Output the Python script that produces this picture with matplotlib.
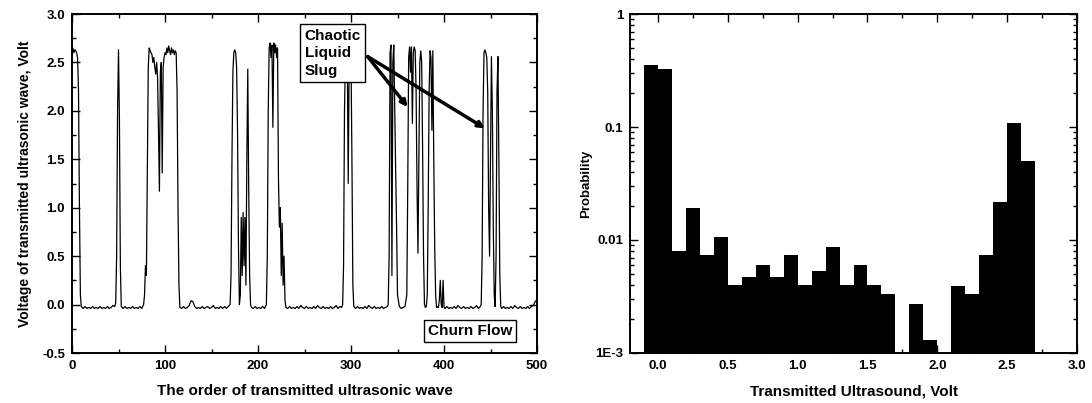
import numpy as np
import matplotlib.pyplot as plt
from matplotlib.ticker import MultipleLocator, FixedLocator, LogLocator, NullFormatter

plt.rcParams['font.family'] = ['Liberation Sans', 'DejaVu Sans']
plt.rcParams['font.weight'] = 'bold'

# ---- left panel: transmitted ultrasonic wave, (order, voltage) vertices ----
trace = [
    (0, 2.58), (1, 2.65), (2, 2.60), (3, 2.63), (4, 2.62), (5, 2.60), (6, 2.55), (7, 2.20), (8, 1.00), (9, 0.10),
    (10, -0.02), (12, -0.04), (14, -0.02), (16, -0.04), (18, -0.03), (20, -0.04), (22, -0.02), (24, -0.04),
    (26, -0.03), (28, -0.04), (30, -0.02), (32, -0.04), (34, -0.03), (36, -0.04), (38, -0.02), (40, -0.04),
    (42, -0.03), (44, -0.01), (46, -0.02),
    (47, 0.02), (48, 0.50), (49, 2.00), (50, 2.63), (51, 1.90), (52, 0.40), (53, -0.02),
    (55, -0.04), (57, -0.02), (59, -0.04), (61, -0.03), (63, -0.04), (65, -0.02), (67, -0.04), (69, -0.03),
    (71, -0.04), (73, -0.02), (75, -0.04), (77, 0.00), (78, 0.10), (79, 0.40), (80, 0.30),
    (81, 1.40), (82, 2.45), (83, 2.65), (84, 2.62), (85, 2.60), (86, 2.58), (87, 2.50), (88, 2.55), (89, 2.45),
    (90, 2.38), (91, 2.50), (92, 2.35), (93, 1.80), (94, 1.17), (95, 2.40), (96, 2.50), (97, 1.36), (98, 2.45),
    (99, 2.55), (100, 2.60), (101, 2.58), (102, 2.65), (103, 2.60), (104, 2.67), (105, 2.62), (106, 2.58),
    (107, 2.65), (108, 2.60), (109, 2.63), (110, 2.58), (111, 2.62), (112, 2.60), (113, 2.20), (114, 1.00),
    (115, 0.20), (116, -0.03), (118, -0.04), (120, -0.02), (122, -0.04), (124, -0.03), (126, -0.01),
    (128, 0.04), (130, 0.03), (132, -0.02), (134, -0.04), (136, -0.03), (138, -0.04), (140, -0.02),
    (142, -0.04), (144, -0.03), (146, -0.02), (148, -0.04), (150, -0.03), (152, -0.01), (154, -0.04),
    (156, -0.03), (158, -0.04), (160, -0.02), (162, -0.04), (164, -0.02), (166, -0.04), (168, -0.02),
    (170, 0.00), (171, 0.30), (172, 1.50), (173, 2.40), (174, 2.60), (175, 2.63), (176, 2.60), (177, 2.45),
    (178, 1.80), (179, 0.60), (180, 0.00), (181, 0.10), (182, 0.90), (183, 0.30), (184, 0.95), (185, 0.40),
    (186, 0.90), (187, 0.20), (188, 1.50), (189, 2.43), (190, 1.20), (191, 0.30), (192, 0.00),
    (193, -0.03), (195, -0.04), (197, -0.02), (199, -0.04), (201, -0.03), (203, -0.04), (205, -0.02),
    (207, -0.04), (209, 0.00), (210, 0.50), (211, 2.00), (212, 2.65), (213, 2.70), (214, 2.55), (215, 2.68),
    (216, 1.83), (217, 2.70), (218, 2.60), (219, 2.68), (220, 2.55), (221, 2.65), (222, 1.30), (223, 0.80),
    (224, 1.00), (225, 0.30), (226, 0.84), (227, 0.20), (228, 0.50), (229, 0.05),
    (230, -0.03), (232, -0.04), (234, -0.02), (236, -0.04), (238, -0.03), (240, -0.04), (242, -0.02),
    (244, -0.04), (246, -0.01), (248, -0.03), (250, -0.04), (252, -0.02), (254, -0.04), (256, -0.03),
    (258, -0.04), (260, -0.02), (262, -0.04), (264, -0.01), (266, -0.03), (268, -0.04), (270, -0.02),
    (272, -0.04), (274, -0.03), (276, -0.04), (278, -0.02), (280, -0.04), (282, -0.03), (284, -0.01),
    (286, -0.04), (288, -0.02), (290, -0.03),
    (291, 0.00), (292, 0.40), (293, 2.00), (294, 2.55), (295, 2.62), (296, 2.60), (297, 1.25), (298, 2.50),
    (299, 2.60), (300, 2.55), (301, 1.50), (302, 0.20), (303, -0.02),
    (305, -0.04), (307, -0.02), (309, -0.04), (311, -0.03), (313, -0.04), (315, -0.02), (317, -0.04),
    (319, -0.01), (321, -0.03), (323, -0.04), (325, -0.02), (327, -0.04), (329, -0.03), (331, -0.04),
    (333, -0.02), (335, -0.04), (337, -0.03), (339, -0.02),
    (340, 0.00), (341, 0.50), (342, 2.60), (343, 2.68), (344, 0.30), (345, 2.50), (346, 2.68), (347, 2.00),
    (348, 1.40), (349, 0.80), (350, 0.10), (352, -0.02), (354, -0.04), (356, -0.03), (358, -0.02),
    (360, 0.10), (361, 1.20), (362, 2.55), (363, 2.66), (364, 2.40), (365, 2.66), (366, 1.87), (367, 2.60),
    (368, 2.66), (369, 2.62), (370, 2.20), (371, 1.20), (372, 0.53), (373, 1.50), (374, 2.50), (375, 2.62),
    (376, 2.50), (377, 1.60), (378, 0.50), (379, 0.00), (380, -0.03), (381, -0.02), (382, 0.10), (383, 1.00),
    (384, 2.20), (385, 2.62), (386, 2.55), (387, 1.80), (388, 2.62), (389, 1.50), (390, 0.60), (391, 0.10),
    (392, -0.03), (393, -0.02), (394, -0.03), (395, 0.05), (396, 0.25), (397, 0.00), (398, -0.03),
    (399, 0.25), (400, -0.02),
    (401, -0.04), (403, -0.02), (405, -0.04), (407, -0.03), (409, -0.04), (411, -0.02), (413, -0.04),
    (415, -0.01), (417, -0.03), (419, -0.04), (421, -0.02), (423, -0.04), (425, -0.03), (427, -0.04),
    (429, -0.02), (431, -0.04), (433, -0.03), (435, -0.01), (437, -0.04), (439, -0.02),
    (440, 0.00), (441, 0.50), (442, 2.00), (443, 2.60), (444, 2.63), (445, 2.60), (446, 2.55), (447, 2.20),
    (448, 1.00), (449, 0.50), (450, 1.50), (451, 2.56), (452, 2.00), (453, 0.80), (454, 0.10), (455, -0.02),
    (456, 0.50), (457, 2.20), (458, 2.56), (459, 1.50), (460, 0.30), (461, -0.02),
    (462, -0.04), (464, -0.02), (466, -0.04), (468, -0.03), (470, -0.04), (472, -0.02), (474, -0.04),
    (476, -0.01), (478, -0.03), (480, -0.04), (482, -0.02), (484, -0.04), (486, -0.03), (488, -0.04),
    (490, -0.02), (492, -0.04), (494, -0.02), (496, -0.01), (498, 0.03), (500, 0.05),
]
order = [p[0] for p in trace]
voltage = [p[1] for p in trace]

# ---- right panel: probability histogram ----
bin_left = [-0.1, 0.0, 0.1, 0.2, 0.3, 0.4, 0.5, 0.6, 0.7, 0.8, 0.9, 1.0, 1.1, 1.2,
            1.3, 1.4, 1.5, 1.6, 1.7, 1.8, 1.9, 2.0, 2.1, 2.2, 2.3, 2.4, 2.5, 2.6]
probability = [0.354, 0.324, 0.0080, 0.0191, 0.0074, 0.0106, 0.0040, 0.0047, 0.0060, 0.0047, 0.0073, 0.0040, 0.0053, 0.0086,
               0.0040, 0.0060, 0.0040, 0.0033, 0.0, 0.0027, 0.0013, 0.0, 0.0039, 0.0033, 0.0074, 0.0216, 0.109, 0.0503]

fig = plt.figure(figsize=(10.92, 4.03), dpi=100)
ax1 = fig.add_axes([72 / 1092, 50 / 403, 465 / 1092, 339 / 403])
ax2 = fig.add_axes([630 / 1092, 50 / 403, 447 / 1092, 339 / 403])

ax1.plot(order, voltage, color='black', lw=0.9)
ax1.set_xlim(0, 500)
ax1.set_ylim(-0.5, 3.0)
ax1.xaxis.set_major_locator(MultipleLocator(100))
ax1.xaxis.set_minor_locator(MultipleLocator(50))
ax1.yaxis.set_major_locator(MultipleLocator(0.5))
ax1.yaxis.set_minor_locator(MultipleLocator(0.25))
ax1.yaxis.set_major_formatter(plt.FormatStrFormatter('%.1f'))
ax1.set_xlabel('The order of transmitted ultrasonic wave', labelpad=9, fontsize=11, fontweight='bold')
ax1.set_ylabel('Voltage of transmitted ultrasonic wave, Volt', labelpad=7, fontsize=10, fontweight='bold')

ax1.text(250, 2.595, 'Chaotic\nLiquid\nSlug', ha='left', va='center', fontsize=11,
         fontweight='bold', linespacing=1.3, zorder=5,
         bbox=dict(boxstyle='square,pad=0.3', fc='white', ec='black', lw=1.0))
for tip in [(361, 2.04), (444, 1.82)]:
    ax1.annotate('', xy=tip, xytext=(318, 2.56), zorder=6,
                 arrowprops=dict(arrowstyle='-|>', lw=2.5, color='black',
                                 mutation_scale=9, shrinkA=0, shrinkB=0))
ax1.text(428, -0.27, 'Churn Flow', ha='center', va='center', fontsize=11,
         fontweight='bold', zorder=5,
         bbox=dict(boxstyle='square,pad=0.25', fc='white', ec='black', lw=1.0))

ax2.bar(bin_left, probability, width=0.1, align='edge', color='black', lw=0)
ax2.set_yscale('log')
ax2.set_xlim(-0.2, 3.0)
ax2.set_ylim(1e-3, 1)
ax2.xaxis.set_major_locator(MultipleLocator(0.5))
ax2.xaxis.set_minor_locator(MultipleLocator(0.25))
ax2.xaxis.set_major_formatter(plt.FormatStrFormatter('%.1f'))
ax2.yaxis.set_major_locator(FixedLocator([1e-3, 1e-2, 1e-1, 1]))
ax2.set_yticklabels(['1E-3', '0.01', '0.1', '1'])
ax2.yaxis.set_minor_locator(LogLocator(base=10, subs=np.arange(2, 10)))
ax2.yaxis.set_minor_formatter(NullFormatter())
ax2.set_xlabel('Transmitted Ultrasound, Volt', labelpad=9, fontsize=11, fontweight='bold')
ax2.set_ylabel('Probability', labelpad=2, fontsize=9.5, fontweight='bold')

for ax in (ax1, ax2):
    ax.tick_params(which='both', direction='in', top=True, right=True, width=1.0)
    ax.tick_params(which='major', length=6, pad=5)
    ax.tick_params(which='minor', length=3)
    for lab in ax.get_xticklabels() + ax.get_yticklabels():
        lab.set_fontsize(9.5)
        lab.set_fontweight('bold')
    for sp in ax.spines.values():
        sp.set_linewidth(1.4)

fig.savefig('out.png', dpi=100)
